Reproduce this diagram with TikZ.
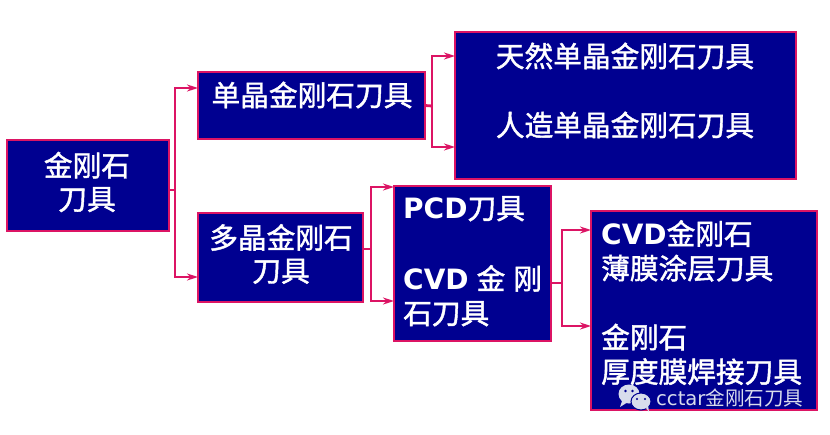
\documentclass[tikz,border=0pt]{standalone}
\usepackage{fontspec}
\setmainfont{DejaVu Sans}
\newfontfamily\cjk{Noto Sans CJK SC}[Scale=1.025,FakeBold=1.5,BoldFont={Noto Sans CJK SC},BoldFeatures={FakeBold=1.5}]
\newfontfamily\cjkthin{Noto Sans CJK SC}
\definecolor{boxblue}{HTML}{000090}
\definecolor{linkpink}{HTML}{DC1464}
\definecolor{markgrey}{HTML}{D8DCEC}
\usetikzlibrary{arrows.meta}
\begin{document}
\begin{tikzpicture}[
  x=1pt, y=-1pt,
  toolbox/.style={draw=linkpink, fill=boxblue, line width=1.1pt, inner sep=0pt, outer sep=0pt},
  toollabel/.style={text=white, inner sep=0pt, font=\fontsize{28}{34.5}\selectfont\bfseries},
  link/.style={draw=linkpink, line width=2.8pt},
  linkarrow/.style={link, -{Stealth[length=11pt,width=7pt]}},
]
\useasboundingbox (0,0) rectangle (830,434);

% boxes
\node[toolbox, minimum width=162pt, minimum height=91pt] (root) at (88,185.5) {};
\node[toolbox, minimum width=227pt, minimum height=67pt] (mono) at (311.5,105.5) {};
\node[toolbox, minimum width=165pt, minimum height=89pt] (poly) at (280.5,257.5) {};
\node[toolbox, minimum width=341pt, minimum height=147pt] (natural) at (625.5,105.5) {};
\node[toolbox, minimum width=157pt, minimum height=155pt] (pcd) at (472.5,263.5) {};
\node[toolbox, minimum width=226pt, minimum height=199pt] (cvd) at (704,310.5) {};

% texts
\node[toollabel, align=center] (roottext) at (87,182) {\cjk 金刚石\\[-1pt]\cjk 刀具};
\node[toollabel] (monotext) at (312,95) {\cjk 单晶金刚石刀具};
\node[toollabel, align=center] (polytext) at (281,254) {\cjk 多晶金刚石\\[-1.5pt]\cjk 刀具};
\node[toollabel] (naturaltext) at (625,56) {\cjk 天然单晶金刚石刀具};
\node[toollabel] (artificialtext) at (625,125) {\cjk 人造单晶金刚石刀具};
\node[toollabel, align=left, anchor=north west] (pcdtext) at (403,196) {PCD{\cjk 刀具}\\[36pt]CVD\hspace{8pt}{\cjk 金}\hspace{8pt}{\cjk 刚}\\{\cjk 石刀具}};
\node[toollabel, align=left, anchor=north west] (cvdtext) at (601,220) {CVD{\cjk 金刚石}\\{\cjk 薄膜涂层刀具}\\[34.5pt]{\cjk 金刚石}\\{\cjk 厚度膜焊接刀具}};

% connectors
\coordinate (forkroot) at (175,190);
\coordinate (forkmono) at (432,106);
\coordinate (forkpoly) at (371,249);
\coordinate (forkpcd) at (562,283);
\draw[link] ([yshift=-4.5pt]root.east) -- (forkroot);
\draw[linkarrow] (forkroot) |- ([yshift=17.5pt]mono.west);
\draw[linkarrow] (forkroot) |- ([yshift=-19.5pt]poly.west);
\draw[link] (mono.east) -- (forkmono);
\draw[linkarrow] (forkmono) |- ([yshift=49.5pt]natural.west);
\draw[linkarrow] (forkmono) |- ([yshift=-41.5pt]natural.west);
\draw[link] ([yshift=8.5pt]poly.east) -- (forkpoly);
\draw[linkarrow] (forkpoly) |- ([yshift=76.5pt]pcd.west);
\draw[linkarrow] (forkpoly) |- ([yshift=-37.5pt]pcd.west);
\draw[link] ([yshift=-19.5pt]pcd.east) -- (forkpcd);
\draw[linkarrow] (forkpcd) |- ([yshift=80.5pt]cvd.west);
\draw[linkarrow] (forkpcd) |- ([yshift=-15.5pt]cvd.west);

% watermark
\fill[markgrey] (629,394) ellipse (10.5 and 9.5);
\fill[markgrey] (622,401) -- (620,407) -- (628,402) -- cycle;
\fill[markgrey, draw=boxblue, line width=1pt] (641,401.5) ellipse (10 and 8.5);
\fill[markgrey] (646,408) -- (649,412) -- (648,405) -- cycle;
\fill[boxblue] (625.5,391) circle (1.3) (632.5,391) circle (1.3) (637,399) circle (1.1) (645,399) circle (1.1);
\node[text=markgrey, inner sep=0pt, anchor=west, font=\fontsize{19.6}{20}\selectfont] (marktext) at (656,398) {cctar{\cjkthin 金刚石刀具}};
\end{tikzpicture}
\end{document}
